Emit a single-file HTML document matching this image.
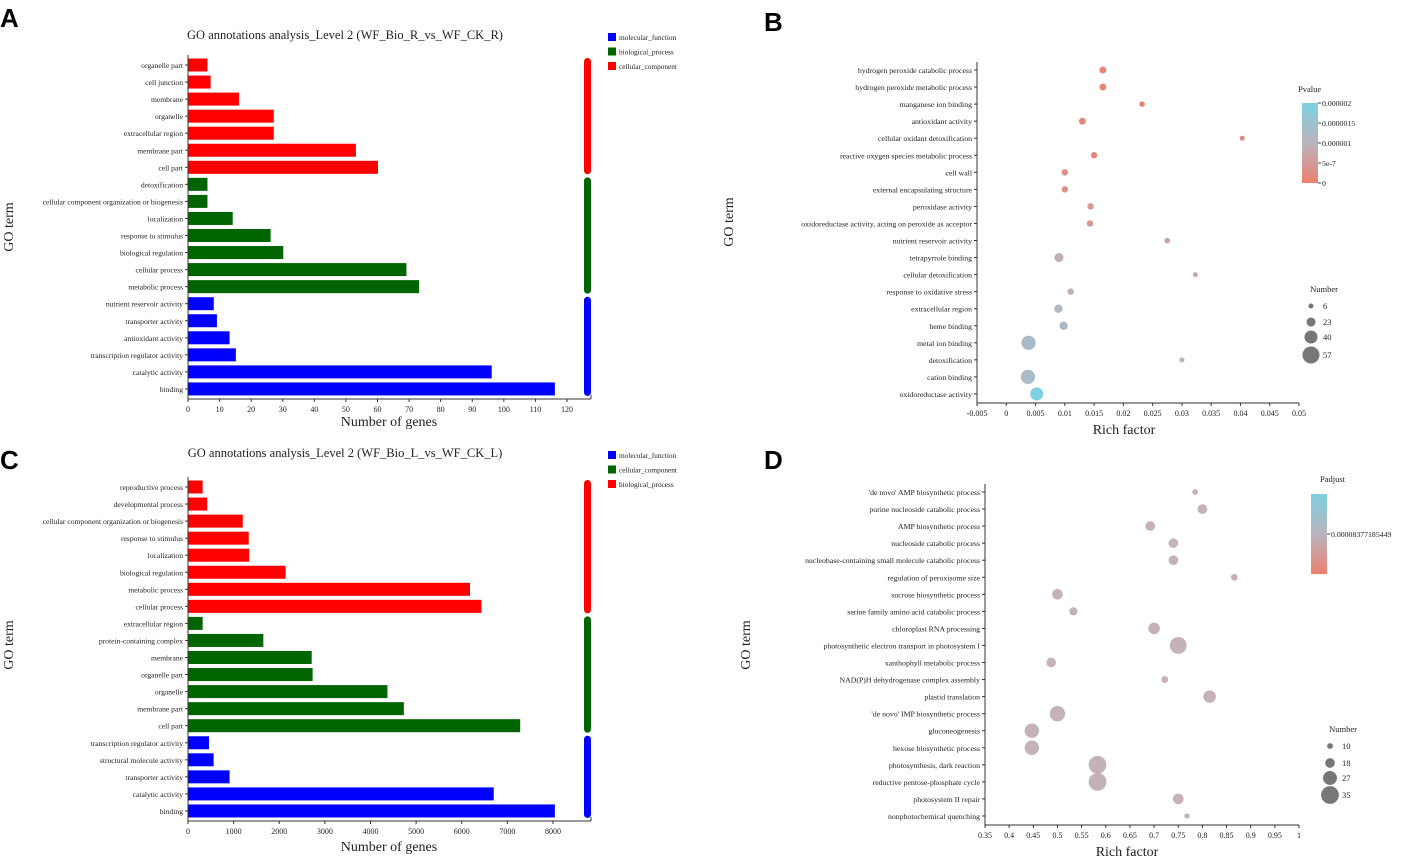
<!DOCTYPE html>
<html><head><meta charset="utf-8">
<style>
html,body{margin:0;padding:0;background:#fff;}
svg{display:block;font-family:"Liberation Serif",serif;}
.lab{font-family:"Liberation Sans",sans-serif;font-weight:bold;font-size:26px;}
</style></head>
<body>
<svg id="fig" width="1418" height="859" viewBox="0 0 1418 859" xmlns="http://www.w3.org/2000/svg">
<text class="lab" x="0" y="27">A</text>
<text class="lab" x="764" y="31">B</text>
<text class="lab" x="0" y="469">C</text>
<text class="lab" x="764" y="469">D</text>
</svg>
<script>
// ---- Panel A data ----
const aCats = ["organelle part","cell junction","membrane","organelle","extracellular region","membrane part","cell part","detoxification","cellular component organization or biogenesis","localization","response to stimulus","biological regulation","cellular process","metabolic process","nutrient reservoir activity","transporter activity","antioxidant activity","transcription regulator activity","catalytic activity","binding"];
const aVals = [6,7,16,27,27,53,60,6,6,14,26,30,69,73,8,9,13,15,96,116];
const aGroup = [2,2,2,2,2,2,2,1,1,1,1,1,1,1,0,0,0,0,0,0];
const aTicks = [0,10,20,30,40,50,60,70,80,90,100,110,120];
const aLegend = ["molecular_function","biological_process","cellular_component"];
const aColors = ["#0000ff","#006400","#ff0000"];
// ---- Panel C data ----
const cCats = ["reproductive process","developmental process","cellular component organization or biogenesis","response to stimulus","localization","biological regulation","metabolic process","cellular process","extracellular region","protein-containing complex","membrane","organelle part","organelle","membrane part","cell part","transcription regulator activity","structural molecule activity","transporter activity","catalytic activity","binding"];
const cVals = [310,410,1190,1320,1330,2130,6170,6420,310,1640,2700,2720,4360,4720,7270,450,550,900,6690,8030];
const cGroup = [2,2,2,2,2,2,2,2,1,1,1,1,1,1,1,0,0,0,0,0];
const cTicks = [0,1000,2000,3000,4000,5000,6000,7000,8000];
const cLegend = ["molecular_function","cellular_component","biological_process"];
const cColors = ["#0000ff","#006400","#ff0000"];
// ---- Panel B data ----
const bCats = ["hydrogen peroxide catabolic process","hydrogen peroxide metabolic process","manganese ion binding","antioxidant activity","cellular oxidant detoxification","reactive oxygen species metabolic process","cell wall","external encapsulating structure","peroxidase activity","oxidoreductase activity, acting on peroxide as acceptor","nutrient reservoir activity","tetrapyrrole binding","cellular detoxification","response to oxidative stress","extracellular region","heme binding","metal ion binding","detoxification","cation binding","oxidoreductase activity"];
const bRich = [0.0165,0.0165,0.0232,0.0130,0.0403,0.0150,0.0100,0.0100,0.0144,0.0143,0.0275,0.0090,0.0323,0.0110,0.0089,0.0098,0.0038,0.0300,0.0037,0.0052];
const bNum = [14,14,8,14,6,12,12,12,12,12,8,23,6,12,20,20,45,6,45,40];
const bP = [0.00000005,0.00000005,0.0000001,0.0000001,0.0000002,0.0000002,0.0000003,0.0000003,0.0000005,0.0000005,0.0000006,0.0000009,0.0000008,0.0000009,0.0000011,0.0000012,0.0000013,0.0000013,0.0000013,0.000002];
const bTicks = [-0.005,0,0.005,0.01,0.015,0.02,0.025,0.03,0.035,0.04,0.045,0.05];
const bTickLabels = ["-0.005","0","0.005","0.01","0.015","0.02","0.025","0.03","0.035","0.04","0.045","0.05"];
const bSizeLegend = [6,23,40,57];
const bColorTicks = [0,0.0000005,0.000001,0.0000015,0.000002];
const bColorLabels = ["0","5e-7","0.000001","0.0000015","0.000002"];
// ---- Panel D data ----
const dCats = ["'de novo' AMP biosynthetic process","purine nucleoside catabolic process","AMP biosynthetic process","nucleoside catabolic process","nucleobase-containing small molecule catabolic process","regulation of peroxisome size","sucrose biosynthetic process","serine family amino acid catabolic process","chloroplast RNA processing","photosynthetic electron transport in photosystem I","xanthophyll metabolic process","NAD(P)H dehydrogenase complex assembly","plastid translation","'de novo' IMP biosynthetic process","gluconeogenesis","hexose biosynthetic process","photosynthesis, dark reaction","reductive pentose-phosphate cycle","photosystem II repair","nonphotochemical quenching"];
const dRich = [0.785,0.800,0.692,0.740,0.740,0.866,0.500,0.533,0.700,0.750,0.487,0.722,0.815,0.500,0.447,0.447,0.583,0.583,0.750,0.768];
const dNum = [10,18,18,18,18,12,20,15,22,33,18,12,24,30,28,28,35,35,20,9];
const dTicks = [0.35,0.4,0.45,0.5,0.55,0.6,0.65,0.7,0.75,0.8,0.85,0.9,0.95,1];
const dTickLabels = ["0.35","0.4","0.45","0.5","0.55","0.6","0.65","0.7","0.75","0.8","0.85","0.9","0.95","1"];
const dSizeLegend = [10,18,27,35];

const svg = document.getElementById('fig');
const NS = "http://www.w3.org/2000/svg";
function mk(tag, attrs, parent, text){
  const e = document.createElementNS(NS, tag);
  for (const k in attrs) e.setAttribute(k, attrs[k]);
  if (text !== undefined) e.textContent = text;
  (parent || svg).appendChild(e);
  return e;
}
function grp(name){
  const g = mk('g', {});
  
  
  return g;
}

function barPanel(p){
  const g = grp(p.name);
  const x0 = 188, xs = v => x0 + v * p.scale;
  const y0 = p.yTop, step = 17.05, yc = i => y0 + i * step;
  const t = mk('text', {x: 345, y: p.titleY, 'font-size': 12.5, 'text-anchor': 'middle', fill:'#222'}, g, p.title);
  
  
  const ax = mk('line', {x1: x0, y1: y0 - 10, x2: x0, y2: yc(19) + 10, stroke: '#333', 'stroke-width': 1}, g);
  
  
  const bx = mk('line', {x1: x0, y1: yc(19) + 10, x2: 591, y2: yc(19) + 10, stroke: '#333', 'stroke-width': 1}, g);
  
  
  mk('line', {x1: 591, y1: yc(19)+10, x2: 591, y2: yc(19)+6, stroke:'#333'}, g);
  p.ticks.forEach(tv => {
    mk('line', {x1: xs(tv), y1: yc(19)+10, x2: xs(tv), y2: yc(19)+13, stroke: '#333'}, g);
    const tl = mk('text', {x: xs(tv), y: yc(19)+23, 'font-size': 8, 'text-anchor': 'middle', fill:'#222'}, g, String(tv));
    
    
  });
  p.cats.forEach((c, i) => {
    mk('line', {x1: x0-3, y1: yc(i), x2: x0, y2: yc(i), stroke:'#333'}, g);
    const l = mk('text', {x: x0 - 5, y: yc(i) + 3, 'font-size': 7.6, 'text-anchor': 'end', fill:'#222'}, g, c);
    
    
    const r = mk('rect', {x: x0 + 0.5, y: yc(i) - 6.5, width: Math.max(0, xs(p.vals[i]) - x0), height: 13, fill: p.colors[p.group[i]]}, g);
    
    
  });
  [0,1,2].forEach(gi => {
    const idx = p.group.map((v,i)=>v===gi?i:-1).filter(i=>i>=0);
    if (!idx.length) return;
    const top = yc(Math.min(...idx)) - 7, bot = yc(Math.max(...idx)) + 7;
    const r = mk('rect', {x: 584, y: top, width: 7, height: bot - top, rx: 3.5, fill: p.colors[gi]}, g);
    
    
  });
  p.legend.forEach((lname, i) => {
    const ly = p.titleY + 1 + i * 14.5;
    const s = mk('rect', {x: 608, y: ly - 7, width: 8, height: 8, fill: p.colors[i]}, g);
    
    
    const lt = mk('text', {x: 619, y: ly, 'font-size': 7.3, fill:'#222'}, g, lname);
    
    
  });
  const xt = mk('text', {x: 389, y: p.xTitleY, 'font-size': 14, 'text-anchor': 'middle', fill:'#222'}, g, 'Number of genes');
  
  
  const yt = mk('text', {x: 0, y: 0, 'font-size': 14, 'text-anchor': 'middle', fill:'#222', transform: `translate(13,${p.yTitleY}) rotate(-90)`}, g, 'GO term');
  
  
}

barPanel({name:'panel-a', cats:aCats, vals:aVals, group:aGroup, ticks:aTicks, legend:aLegend, colors:aColors,
  scale:(567-188)/120, yTop:65, titleY:39, xTitleY:426, yTitleY:227,
  title:'GO annotations analysis_Level 2 (WF_Bio_R_vs_WF_CK_R)'});
barPanel({name:'panel-c', cats:cCats, vals:cVals, group:cGroup, ticks:cTicks, legend:cLegend, colors:cColors,
  scale:(553-188)/8000, yTop:487, titleY:457, xTitleY:851, yTitleY:645,
  title:'GO annotations analysis_Level 2 (WF_Bio_L_vs_WF_CK_L)'});

function lerp(a,b,t){return Math.round(a+(b-a)*t);}
function pcolor(v){
  const c0=[236,128,112], c1=[185,180,190], c2=[126,208,224];
  const t = Math.max(0, Math.min(1, v/0.000002));
  let a,b,u;
  if (t<0.5){a=c0;b=c1;u=t/0.5;} else {a=c1;b=c2;u=(t-0.5)/0.5;}
  return `rgb(${lerp(a[0],b[0],u)},${lerp(a[1],b[1],u)},${lerp(a[2],b[2],u)})`;
}

function dotPanel(p){
  const g = grp(p.name);
  const xs = v => p.xL + (v - p.dMin) / (p.dMax - p.dMin) * (p.xR - p.xL);
  const yc = i => p.yTop + i * 17.05;
  const t = mk('text', {x: 1070, y: p.titleY, 'font-size': 12.5, 'text-anchor': 'middle', fill:'#222'}, g, p.title);
  
  
  const yb = yc(19) + 9;
  const ax = mk('line', {x1: p.xL, y1: p.yTop - 8, x2: p.xL, y2: yb, stroke:'#333'}, g);
  
  
  const bx = mk('line', {x1: p.xL, y1: yb, x2: p.xR, y2: yb, stroke:'#333'}, g);
  
  
  p.ticks.forEach((tv, i) => {
    mk('line', {x1: xs(tv), y1: yb, x2: xs(tv), y2: yb + 3, stroke:'#333'}, g);
    const tl = mk('text', {x: xs(tv), y: yb + 13, 'font-size': 8, 'text-anchor': 'middle', fill:'#222'}, g, p.tickLabels[i]);
    
    
  });
  p.cats.forEach((c, i) => {
    mk('line', {x1: p.xL - 3, y1: yc(i), x2: p.xL, y2: yc(i), stroke:'#333'}, g);
    const l = mk('text', {x: p.xL - 5, y: yc(i) + 3, 'font-size': 7.8, 'text-anchor': 'end', fill:'#222'}, g, c);
    
    
  });
  p.cats.forEach((c, i) => {
    const d = mk('circle', {cx: xs(p.rich[i]), cy: yc(i), r: p.rad(p.num[i]), fill: p.col(i)}, g);
    
    
  });
  const xt = mk('text', {x: p.xTitleX, y: p.xTitleY, 'font-size': 14, 'text-anchor': 'middle', fill:'#222'}, g, 'Rich factor');
  
  
  const yt = mk('text', {x: 0, y: 0, 'font-size': 14, 'text-anchor': 'middle', fill:'#222', transform: `translate(${p.yTitleX},${p.yTitleY}) rotate(-90)`}, g, 'GO term');
  
  
  const nt = mk('text', {x: p.sLegX + 13, y: p.sLegY, 'font-size': 8.5, 'text-anchor': 'middle', fill:'#222'}, g, 'Number');
  
  
  p.sizes.forEach((s, i) => {
    const cy = p.sLegY + 14 + p.sGap[i];
    const c = mk('circle', {cx: p.sLegX, cy: cy, r: p.rad(s), fill:'#777'}, g);
    
    
    const tt = mk('text', {x: p.sLegX + 12, y: cy + 3, 'font-size': 8.5, fill:'#222'}, g, String(s));
    
    
  });
}

const defs = mk('defs', {});
const lg = mk('linearGradient', {id:'gb', x1:0, y1:1, x2:0, y2:0}, defs);
mk('stop', {offset:'0', 'stop-color':'rgb(236,128,112)'}, lg);
mk('stop', {offset:'0.5', 'stop-color':'rgb(185,180,190)'}, lg);
mk('stop', {offset:'1', 'stop-color':'rgb(126,208,224)'}, lg);

dotPanel({name:'panel-b', cats:bCats, rich:bRich, num:bNum, ticks:bTicks, tickLabels:bTickLabels,
  xL:977, xR:1299, dMin:-0.005, dMax:0.05, yTop:70, titleY:37,
  rad: n => 1.8 + n * 0.118,
  col: i => pcolor(bP[i]),
  xTitleX:1124, xTitleY:434, yTitleX:733, yTitleY:222,
  sizes:bSizeLegend, sLegX:1311, sLegY:292, sGap:[0,16,31,49]});
{
  const g = grp('color-legend-b');
  const tt = mk('text', {x:1298, y:92, 'font-size':8.5, fill:'#222'}, g, 'Pvalue');
  
  
  const cb = mk('rect', {x:1302, y:103, width:16, height:80, fill:'url(#gb)'}, g);
  
  
  bColorTicks.forEach((v, i) => {
    const y = 183 - v / 0.000002 * 80;
    mk('line', {x1:1318, y1:y, x2:1321, y2:y, stroke:'#444'}, g);
    const l = mk('text', {x:1322, y:y + 3, 'font-size':7.8, fill:'#222'}, g, bColorLabels[i]);
    
    
  });
}
dotPanel({name:'panel-d', cats:dCats, rich:dRich, num:dNum, ticks:dTicks, tickLabels:dTickLabels,
  xL:985, xR:1299, dMin:0.35, dMax:1, yTop:492, titleY:459,
  rad: n => 0.5 + n * 0.24,
  col: i => 'rgb(197,178,184)',
  xTitleX:1127, xTitleY:856, yTitleX:750, yTitleY:645,
  sizes:dSizeLegend, sLegX:1330, sLegY:732, sGap:[0,17,32,49]});
{
  const g = grp('color-legend-d');
  const tt = mk('text', {x:1320, y:482, 'font-size':8.5, fill:'#222'}, g, 'Padjust');
  
  
  const cb = mk('rect', {x:1311, y:494, width:16, height:80, fill:'url(#gb)'}, g);
  
  
  mk('line', {x1:1327, y1:534, x2:1330, y2:534, stroke:'#444'}, g);
  const l = mk('text', {x:1331, y:537, 'font-size':7.8, fill:'#222'}, g, '0.00008377185449');
  
  
}
</script>
</body></html>
